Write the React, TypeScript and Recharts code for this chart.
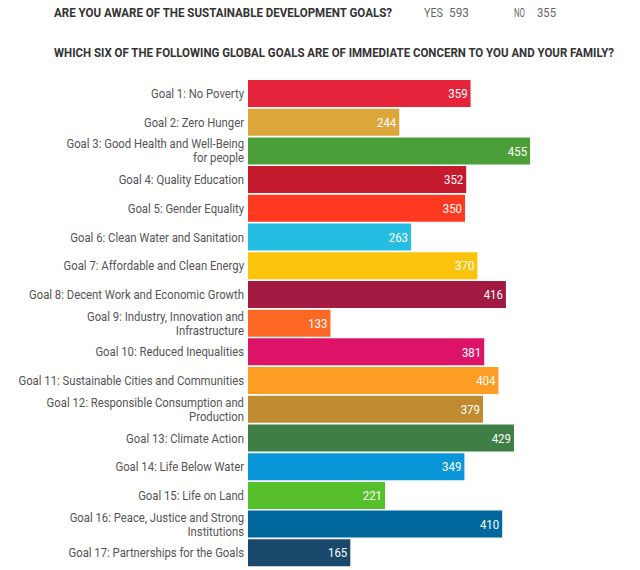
import { Bar, BarChart, Cell, LabelList, XAxis, YAxis } from "recharts";

const goals = [
  "Goal 1: No Poverty",
  "Goal 2: Zero Hunger",
  "Goal 3: Good Health and Well-Being\nfor people",
  "Goal 4: Quality Education",
  "Goal 5: Gender Equality",
  "Goal 6: Clean Water and Sanitation",
  "Goal 7: Affordable and Clean Energy",
  "Goal 8: Decent Work and Economic Growth",
  "Goal 9: Industry, Innovation and\nInfrastructure",
  "Goal 10: Reduced Inequalities",
  "Goal 11: Sustainable Cities and Communities",
  "Goal 12: Responsible Consumption and\nProduction",
  "Goal 13: Climate Action",
  "Goal 14: Life Below Water",
  "Goal 15: Life on Land",
  "Goal 16: Peace, Justice and Strong\nInstitutions",
  "Goal 17: Partnerships for the Goals"
];

const votes = [359, 244, 455, 352, 350, 263, 370, 416, 133, 381, 404, 379, 429, 349, 221, 410, 165];

const sdgColors = [
  "#e5243b", "#dda63a", "#4c9f38", "#c5192d", "#ff3a21", "#26bde2",
  "#fcc30b", "#a21942", "#fd6925", "#dd1367", "#fd9d24", "#bf8b2e",
  "#3f7e44", "#0a97d9", "#56c02b", "#00689d", "#19486a"
];

const awareYes = 593;
const awareNo = 355;

const data = goals.map((goal, i) => ({ goal, votes: votes[i] }));

const FONT = "Roboto, 'Noto Sans', sans-serif";

function GoalTick({ x, y, payload }: any) {
  const lines = String(payload.value).split("\n");
  const lh = 14;
  const y0 = (-(lines.length - 1) * lh) / 2;
  return (
    <g transform={`translate(${x},${y})`}>
      <text transform="scale(0.87,1)" textAnchor="end" fill="#555" fontSize={13} fontFamily={FONT}>
        {lines.map((l, i) => (
          <tspan key={i} x={0} y={y0 + i * lh} dy="0.36em">
            {l}
          </tspan>
        ))}
      </text>
    </g>
  );
}

function ValueLabel({ x, y, width, height, value }: any) {
  const ex = x + width - 3;
  const cy = y + height / 2;
  return (
    <g transform={`translate(${ex},${cy})`}>
      <text transform="scale(0.88,1)" textAnchor="end" dy="0.36em" fill="#fff" fontSize={13} fontFamily={FONT}>
        {value}
      </text>
    </g>
  );
}

export default function App() {
  return (
    <div style={{ position: "absolute", left: 0, top: 0, width: 640, height: 570, background: "#fff" }}>
      <svg width={640} height={70} style={{ position: "absolute", left: 0, top: 0 }}>
        <text x={54} y={17} fontSize={12} fontWeight="bold" fill="#333" fontFamily={FONT}
          textLength={338} lengthAdjust="spacingAndGlyphs">
          ARE YOU AWARE OF THE SUSTAINABLE DEVELOPMENT GOALS?
        </text>
        <text x={424} y={17} fontSize={12} fill="#666" fontFamily={FONT} textLength={19} lengthAdjust="spacingAndGlyphs">YES</text>
        <text x={449} y={17} fontSize={12} fill="#666" fontFamily={FONT} textLength={20} lengthAdjust="spacingAndGlyphs">{awareYes}</text>
        <text x={514} y={17} fontSize={12} fill="#666" fontFamily={FONT} textLength={11} lengthAdjust="spacingAndGlyphs">NO</text>
        <text x={537} y={17} fontSize={12} fill="#666" fontFamily={FONT} textLength={19} lengthAdjust="spacingAndGlyphs">{awareNo}</text>
        <text x={54} y={57} fontSize={12} fontWeight="bold" fill="#333" fontFamily={FONT}
          textLength={560} lengthAdjust="spacingAndGlyphs">
          WHICH SIX OF THE FOLLOWING GLOBAL GOALS ARE OF IMMEDIATE CONCERN TO YOU AND YOUR FAMILY?
        </text>
      </svg>
      <div style={{ position: "absolute", left: 0, top: 0 }}>
        <BarChart
          width={640}
          height={570}
          data={data}
          layout="vertical"
          margin={{ top: 79, right: 20, bottom: 3, left: 0 }}
        >
          <XAxis type="number" domain={[0, 600]} hide />
          <YAxis
            type="category"
            dataKey="goal"
            width={248}
            axisLine={false}
            tickLine={false}
            tickSize={0}
            tickMargin={4}
            interval={0}
            tick={<GoalTick />}
          />
          <Bar dataKey="votes" barSize={27} isAnimationActive={false}>
            {data.map((d, i) => (
              <Cell key={d.goal} fill={sdgColors[i]} />
            ))}
            <LabelList dataKey="votes" content={<ValueLabel />} />
          </Bar>
        </BarChart>
      </div>
    </div>
  );
}
